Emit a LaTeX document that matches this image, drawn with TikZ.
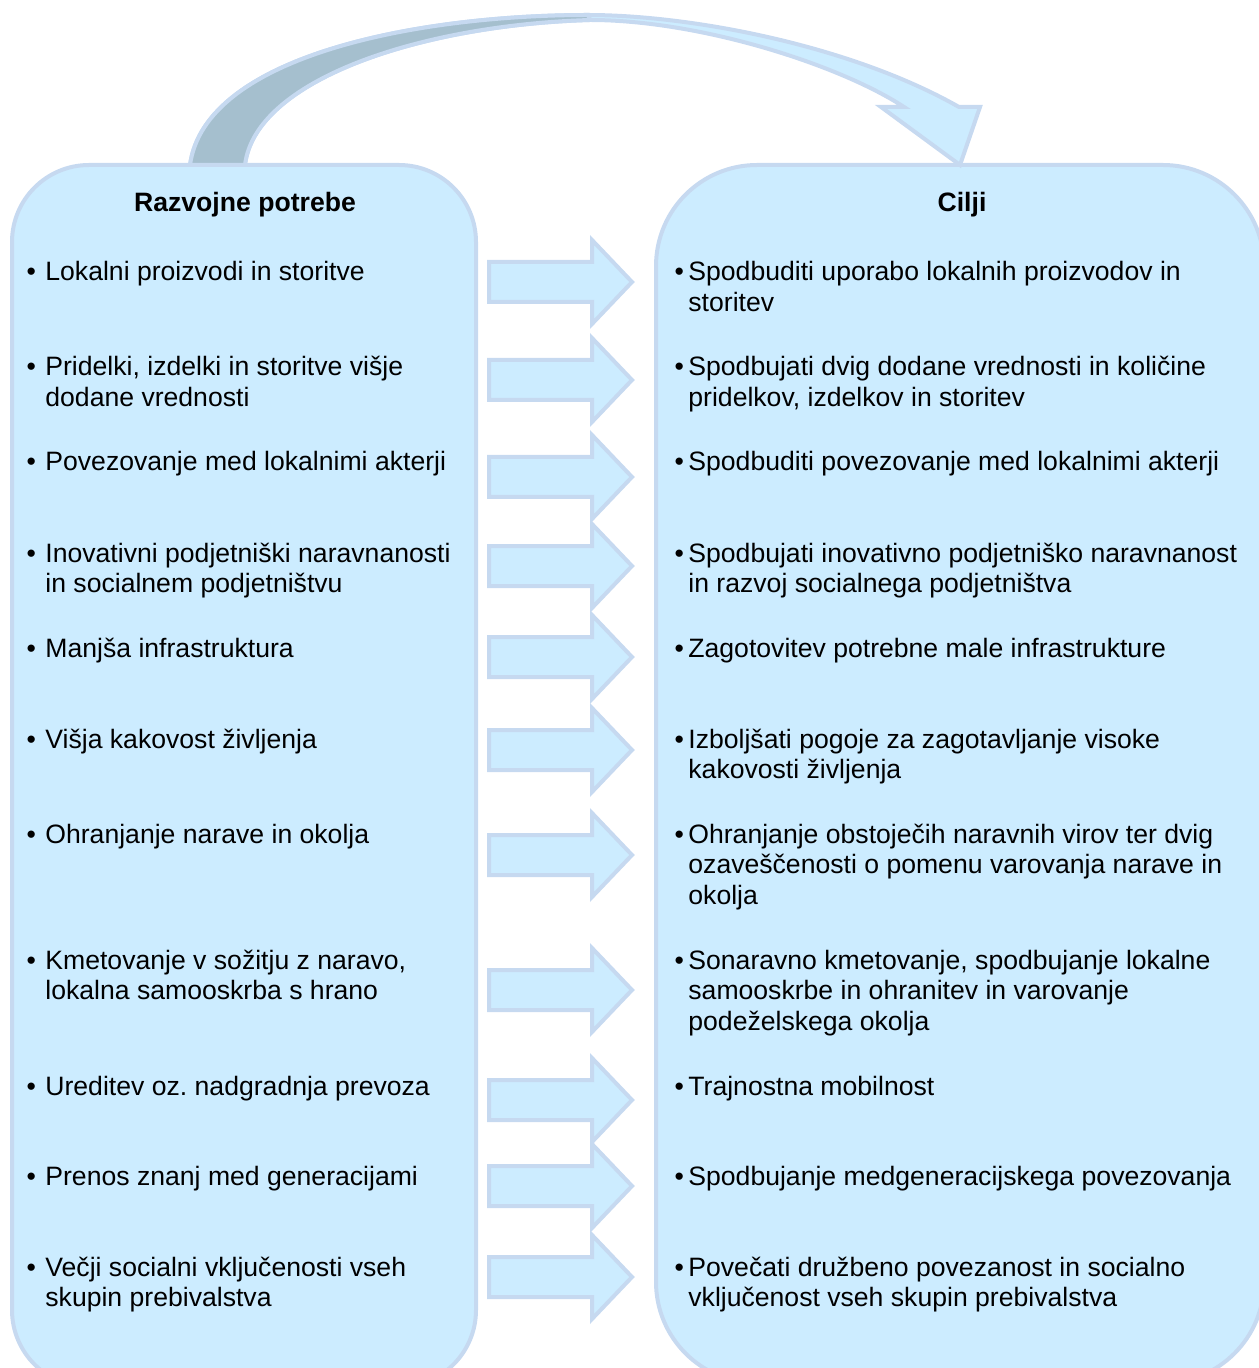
\documentclass[tikz,border=0pt]{standalone}
\usepackage{fontspec}
\setmainfont{Liberation Sans}
\usetikzlibrary{positioning}
\frenchspacing

\definecolor{boxfill}{HTML}{CCECFF}
\definecolor{boxline}{HTML}{C6D9F0}
\definecolor{backside}{HTML}{A5BFCE}

\newcommand{\lbul}{\llap{\textbullet\hspace{4.7pt}}}
\newcommand{\rbul}{\llap{\textbullet\hspace{2.2pt}}}

\begin{document}
\begin{tikzpicture}[x=0.5pt,y=-0.5pt]
\tikzset{panel/.style={draw=boxline, fill=boxfill, line width=2pt}}
% multi-line items are placed at the baseline of their last line
\tikzset{itemtext/.style={anchor=base west, align=left, inner sep=0pt, font=\fontsize{13.3}{15.25}\selectfont}}
\tikzset{heading/.style={anchor=base, inner sep=0pt, font=\fontsize{13.3}{15.25}\selectfont\bfseries}}

\useasboundingbox (0,0) rectangle (1258,1368);

% the two panels
\draw[panel, rounded corners=38.5pt] (12,165) rectangle (476,1387);
\draw[panel, rounded corners=50.5pt] (656,165) rectangle (1264,1383);

% curved arrow over the top
\draw[panel, line join=miter] (190,165) .. controls (205,55) and (420,15) .. (588,15)
  .. controls (690,15) and (850,45) .. (959,107) -- (980,107) -- (960,165) -- (881,107) -- (904,107)
  .. controls (840,65) and (700,20) .. (590,20)
  .. controls (420,25) and (255,80) .. (245,165) -- cycle;
\draw[panel, fill=backside] (190,165) .. controls (205,55) and (420,15) .. (588,15) -- (590,20)
  .. controls (420,25) and (255,80) .. (245,165) -- cycle;

% block arrows
\foreach \y in {282,380,477,566,657,750,855,990,1100,1186,1277}
  \draw[panel, line join=miter] (489,\y-20) -- (592,\y-20) -- (592,\y-42) -- (632,\y)
    -- (592,\y+42) -- (592,\y+20) -- (489,\y+20) -- cycle;

% headings
\node[heading] (needs) at (245,212) {Razvojne potrebe};
\node[heading] (goals) at (962,212) {Cilji};

% left column
\node[itemtext] (n1) at (45,281) {\lbul Lokalni proizvodi in storitve};
\node[itemtext] (n2) at (45,406.5) {\lbul Pridelki, izdelki in storitve višje\\dodane vrednosti};
\node[itemtext] (n3) at (45,471) {\lbul Povezovanje med lokalnimi akterji};
\node[itemtext] (n4) at (45,592.5) {\lbul Inovativni podjetniški naravnanosti\\in socialnem podjetništvu};
\node[itemtext] (n5) at (45,657) {\lbul Manjša infrastruktura};
\node[itemtext] (n6) at (45,748) {\lbul Višja kakovost življenja};
\node[itemtext] (n7) at (45,843) {\lbul Ohranjanje narave in okolja};
\node[itemtext] (n8) at (45,999.5) {\lbul Kmetovanje v sožitju z naravo,\\lokalna samooskrba s hrano};
\node[itemtext] (n9) at (45,1095) {\lbul Ureditev oz. nadgradnja prevoza};
\node[itemtext] (n10) at (45,1185) {\lbul Prenos znanj med generacijami};
\node[itemtext] (n11) at (45,1306.5) {\lbul Večji socialni vključenosti vseh\\skupin prebivalstva};

% right column
\node[itemtext] (g1) at (688,311.5) {\rbul Spodbuditi uporabo lokalnih proizvodov in\\storitev};
\node[itemtext] (g2) at (688,406.5) {\rbul Spodbujati dvig dodane vrednosti in količine\\pridelkov, izdelkov in storitev};
\node[itemtext] (g3) at (688,471) {\rbul Spodbuditi povezovanje med lokalnimi akterji};
\node[itemtext] (g4) at (688,592.5) {\rbul Spodbujati inovativno podjetniško naravnanost\\in razvoj socialnega podjetništva};
\node[itemtext] (g5) at (688,657) {\rbul Zagotovitev potrebne male infrastrukture};
\node[itemtext] (g6) at (688,778.5) {\rbul Izboljšati pogoje za zagotavljanje visoke\\kakovosti življenja};
\node[itemtext] (g7) at (688,904) {\rbul Ohranjanje obstoječih naravnih virov ter dvig\\ozaveščenosti o pomenu varovanja narave in\\okolja};
\node[itemtext] (g8) at (688,1030) {\rbul Sonaravno kmetovanje, spodbujanje lokalne\\samooskrbe in ohranitev in varovanje\\podeželskega okolja};
\node[itemtext] (g9) at (688,1095) {\rbul Trajnostna mobilnost};
\node[itemtext] (g10) at (688,1185) {\rbul Spodbujanje medgeneracijskega povezovanja};
\node[itemtext] (g11) at (688,1306.5) {\rbul Povečati družbeno povezanost in socialno\\vključenost vseh skupin prebivalstva};
\end{tikzpicture}
\end{document}
